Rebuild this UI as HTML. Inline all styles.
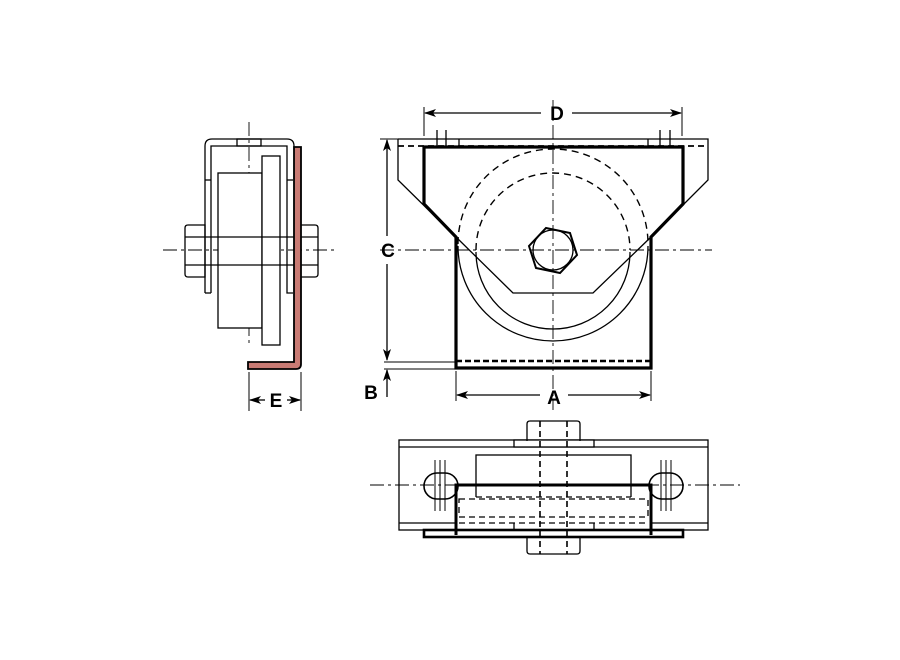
<!DOCTYPE html>
<html><head><style>
html,body{margin:0;padding:0;background:#fff;}
svg{display:block;}
text{font-family:"Liberation Sans",Arial,sans-serif;font-weight:bold;font-size:19px;fill:#000;}
</style></head><body>
<svg width="900" height="660" viewBox="0 0 900 660" xmlns="http://www.w3.org/2000/svg">
<defs>
<marker id="ar" markerWidth="12" markerHeight="8" refX="11" refY="4" orient="auto" markerUnits="userSpaceOnUse">
<path d="M0,0 L12,4 L0,8 L3,4 Z" fill="#000"/>
</marker>
</defs>
<g fill="none" stroke="#000" stroke-width="1.3">
<!-- ===== SIDE VIEW ===== -->
<line x1="163" y1="250" x2="337" y2="250" stroke-width="0.9" stroke-dasharray="14,4,3,4"/>
<line x1="249" y1="122" x2="249" y2="345" stroke-width="0.9" stroke-dasharray="14,4,3,4"/>
<path d="M205,293 V146 Q205,139 212,139 H287 Q294,139 294,146 V150"/>
<path d="M211,293 V146 H287 V293 H293"/>
<line x1="205" y1="293" x2="211" y2="293"/>
<rect x="237" y="139" width="24" height="7"/>
<line x1="205" y1="180" x2="211" y2="180"/>
<line x1="287" y1="180" x2="293" y2="180"/>
<rect x="218" y="173" width="44" height="155" fill="#fff"/>
<rect x="262" y="156" width="18" height="189" fill="#fff"/>
<line x1="185" y1="237" x2="318" y2="237"/>
<line x1="185" y1="265" x2="318" y2="265"/>
<path d="M188,225 H205 V277 H188 Q185,277 185,274 V228 Q185,225 188,225 Z"/>
<path d="M300,225 H315 Q318,225 318,228 V274 Q318,277 315,277 H300 Z"/>
<path d="M294,147 H301 V364 Q301,369 296,369 H248 V362 H294 Z" fill="#c97b74" stroke-width="1.8"/>
<line x1="249" y1="372" x2="249" y2="411" stroke-width="1"/>
<line x1="301" y1="372" x2="301" y2="411" stroke-width="1"/>
<line x1="265" y1="400" x2="250" y2="400" marker-end="url(#ar)"/>
<line x1="287" y1="400" x2="300" y2="400" marker-end="url(#ar)"/>

<!-- ===== FRONT VIEW ===== -->
<line x1="380" y1="250" x2="712" y2="250" stroke-width="0.9" stroke-dasharray="14,4,3,4"/>
<line x1="553" y1="100" x2="553" y2="410" stroke-width="0.9" stroke-dasharray="14,4,3,4"/>
<path d="M398,139 H708 V180 L651,237"/>
<path d="M398,139 V180 L456,237"/>
<line x1="398" y1="146" x2="708" y2="146" stroke-dasharray="6,4" stroke-width="1.8"/>
<line x1="459" y1="139" x2="459" y2="146"/>
<line x1="648" y1="139" x2="648" y2="146"/>
<line x1="437" y1="130" x2="437" y2="147"/>
<line x1="446" y1="130" x2="446" y2="147"/>
<line x1="660" y1="130" x2="660" y2="147"/>
<line x1="670" y1="130" x2="670" y2="147"/>
<path d="M424,204 V147 H683 V204 L651,237 V368 H456 V237 Z" stroke-width="3.2"/>
<line x1="456" y1="361" x2="651" y2="361" stroke-width="2.4" stroke-dasharray="6,3"/>
<path d="M458,244 A95,95 0 0 1 648,244" stroke-dasharray="7,5" stroke-width="1.4"/>
<path d="M476,250 A77,77 0 0 1 630,250" stroke-dasharray="7,5" stroke-width="1.4"/>
<path d="M458,246 A95,95 0 0 0 648,246"/>
<path d="M476,252 A77,77 0 0 0 630,252"/>
<path d="M456,237 L513,293 H593 L651,237"/>
<polygon points="546,228 570,233 577,255 560,273 536,268 529,246" stroke-width="2"/>
<circle cx="553" cy="250" r="20"/>
<line x1="424" y1="107" x2="424" y2="136" stroke-width="1"/>
<line x1="682" y1="107" x2="682" y2="136" stroke-width="1"/>
<line x1="541" y1="113" x2="425" y2="113" marker-end="url(#ar)"/>
<line x1="572" y1="113" x2="681" y2="113" marker-end="url(#ar)"/>
<line x1="380" y1="139" x2="398" y2="139" stroke-width="1"/>
<line x1="387" y1="236" x2="387" y2="140" marker-end="url(#ar)"/>
<line x1="387" y1="264" x2="387" y2="360" marker-end="url(#ar)"/>
<line x1="384" y1="362" x2="455" y2="362" stroke-width="1"/>
<line x1="384" y1="369" x2="455" y2="369" stroke-width="1"/>
<line x1="387" y1="397" x2="387" y2="370" marker-end="url(#ar)"/>
<line x1="456" y1="371" x2="456" y2="401" stroke-width="1"/>
<line x1="651" y1="371" x2="651" y2="401" stroke-width="1"/>
<line x1="540" y1="395" x2="457" y2="395" marker-end="url(#ar)"/>
<line x1="568" y1="395" x2="650" y2="395" marker-end="url(#ar)"/>

<!-- ===== BOTTOM VIEW ===== -->
<rect x="399" y="440" width="309" height="90"/>
<line x1="399" y1="447" x2="708" y2="447"/>
<line x1="399" y1="523" x2="708" y2="523"/>
<rect x="514" y="440" width="80" height="7" fill="#fff"/>
<path d="M527,441 V424 Q527,421 530,421 H577 Q580,421 580,424 V441"/>
<path d="M527,537 V551 Q527,554 530,554 H577 Q580,554 580,551 V537"/>
<rect x="476" y="455" width="155" height="40" fill="#fff"/>
<rect x="456" y="485" width="195" height="50" fill="#fff" stroke="none"/>
<rect x="424" y="530" width="259" height="7" stroke-width="2.6"/>
<rect x="424" y="473" width="34" height="26" rx="13" fill="#fff" stroke-width="1.6"/>
<rect x="649" y="473" width="34" height="26" rx="13" fill="#fff" stroke-width="1.6"/>
<path d="M456,535 V485 H651 V535" stroke-width="3"/>
<path d="M476,485 V497 M631,485 V497" />
<path d="M476,497 H631" stroke-dasharray="6,4"/>
<rect x="459" y="499" width="189" height="18" stroke-dasharray="6,4"/>
<line x1="459" y1="523" x2="648" y2="523" stroke-dasharray="6,4"/>
<line x1="514" y1="523" x2="514" y2="530"/>
<line x1="594" y1="523" x2="594" y2="530"/>
<line x1="540" y1="421" x2="540" y2="554" stroke-dasharray="6,4" stroke-width="1.6"/>
<line x1="567" y1="421" x2="567" y2="554" stroke-dasharray="6,4" stroke-width="1.6"/>
<line x1="435" y1="460" x2="435" y2="511" stroke-width="1"/>
<line x1="440" y1="460" x2="440" y2="511" stroke-width="1"/>
<line x1="445" y1="460" x2="445" y2="511" stroke-width="1"/>
<line x1="661" y1="460" x2="661" y2="511" stroke-width="1"/>
<line x1="666" y1="460" x2="666" y2="511" stroke-width="1"/>
<line x1="671" y1="460" x2="671" y2="511" stroke-width="1"/>
<line x1="370" y1="485" x2="740" y2="485" stroke-width="0.9" stroke-dasharray="14,4,3,4"/>
</g>
<text x="557" y="120" text-anchor="middle">D</text>
<text x="388" y="257" text-anchor="middle">C</text>
<text x="371" y="399" text-anchor="middle">B</text>
<text x="554" y="404" text-anchor="middle">A</text>
<text x="276" y="407" text-anchor="middle">E</text>
</svg>
</body></html>
